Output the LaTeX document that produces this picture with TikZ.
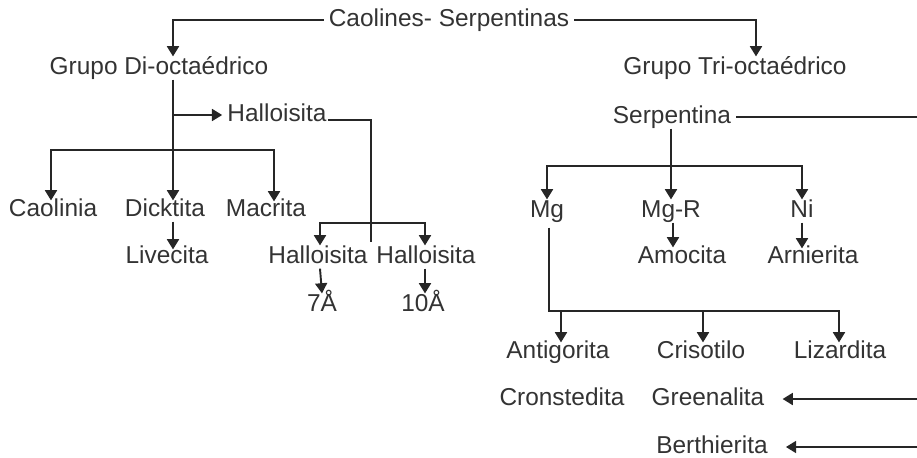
\documentclass[tikz,border=0pt]{standalone}
\usepackage{fontspec}
\setmainfont{Liberation Sans}
\usetikzlibrary{calc,arrows.meta}
\begin{document}
\begin{tikzpicture}[x=0.02cm,y=-0.02cm,
  lbl/.style={inner sep=3pt,outer sep=0pt,text=black!80,font=\fontsize{13.9pt}{16pt}\selectfont,text height=0.72em,text depth=0pt},
  ln/.style={draw=black!85,line width=1.1pt},
  arr/.style={ln,-{Triangle[width=6.8pt,length=5.8pt]}}]
\path[use as bounding box] (0,0) rectangle (917,457);
% nodes
\node[lbl] (top) at (449,20) {Caolines- Serpentinas};
\node[lbl] (gdi) at (159,68) {Grupo Di-octaédrico};
\node[lbl] (gtri) at (735,68) {Grupo Tri-octaédrico};
\node[lbl] (hal) at (277,115) {Halloisita};
\node[lbl] (cao) at (53,210) {Caolinia};
\node[lbl] (dick) at (165,210) {Dicktita};
\node[lbl] (mac) at (266,210) {Macrita};
\node[lbl] (live) at (167,257) {Livecita};
\node[lbl] (h7) at (318,257) {Halloisita};
\node[lbl] (h10) at (426,257) {Halloisita};
\node[lbl] (a7) at (322,305) {7Å};
\node[lbl] (a10) at (423,305) {10Å};
\node[lbl] (serp) at (672,117) {Serpentina};
\node[lbl] (mg) at (547,211) {Mg};
\node[lbl] (mgr) at (671,211) {Mg-R};
\node[lbl] (ni) at (802,211) {Ni};
\node[lbl] (amo) at (682,257) {Amocita};
\node[lbl] (arn) at (813,257) {Arnierita};
\node[lbl] (anti) at (558,352) {Antigorita};
\node[lbl] (cris) at (701,352) {Crisotilo};
\node[lbl] (liz) at (840,352) {Lizardita};
\node[lbl] (cron) at (562,399) {Cronstedita};
\node[lbl] (green) at (708,399) {Greenalita};
\node[lbl] (berth) at (712,447) {Berthierita};
% junction coordinates
\coordinate (jL) at (173,150);
\coordinate (jH) at (173,115);
\coordinate (jHal) at (371,223);
\coordinate (hEnd) at (371,242);
\coordinate (jS) at (671,166);
\coordinate (busM) at (549,311);
\coordinate (rS) at (917,117);
\coordinate (rG) at (917,399);
\coordinate (rB) at (917,447);
% left side
\draw[arr] (top.west) -| ($(gdi.north)+(14,0)$);
\draw[arr] (top.east) -| ($(gtri.north)+(21,0)$);
\draw[ln] (gdi.south -| jL) -- (jL);
\draw[arr] (jL) -| ($(cao.north)+(-2,2)$);
\draw[arr] (jL) -| ($(mac.north)+(8,3)$);
\draw[arr] (jL) -- ($(jL |- dick.north)+(0,2)$);
\draw[arr] (jH) -- (hal.west);
\draw[ln] ($(hal.east)+(-4,5)$) -| (hEnd);
\draw[arr] (jHal) -| ($(h7.north)+(2,0)$);
\draw[arr] (jHal) -| ($(h10.north)+(-1,0)$);
\draw[arr] (dick.south -| jL) -- ($(live.north -| jL)+(0,4)$);
\draw[arr] ($(h7.south)+(2,0)$) -- ($(a7.north)+(0,0)$);
\draw[arr] ($(h10.south)+(-1,0)$) -- ($(a10.north)+(2,0)$);
% right side
\draw[ln] (serp.east) -- (rS);
\draw[arr] (serp.south -| mgr) -- (mgr.north);
\draw[arr] (jS) -| (mg.north);
\draw[arr] (jS) -| (ni.north);
\draw[arr] ($(mgr.south)+(2,0)$) -- ($(mgr.south |- amo.north)+(2,2)$);
\draw[arr] (ni.south) -- ($(ni.south |- arn.north)+(0,3)$);
\draw[arr] ($(mg.south)+(2,5)$) |- (busM) -| ($(liz.north)+(-1,2)$);
\draw[arr] ($(anti.north |- busM)+(3,0)$) -- ($(anti.north)+(3,2)$);
\draw[arr] ($(cris.north |- busM)+(2,0)$) -- ($(cris.north)+(2,2)$);
\draw[arr] (rG) -- ($(green.east)+(13,0)$);
\draw[arr] (rB) -- ($(berth.east)+(13,0)$);
\end{tikzpicture}
\end{document}
